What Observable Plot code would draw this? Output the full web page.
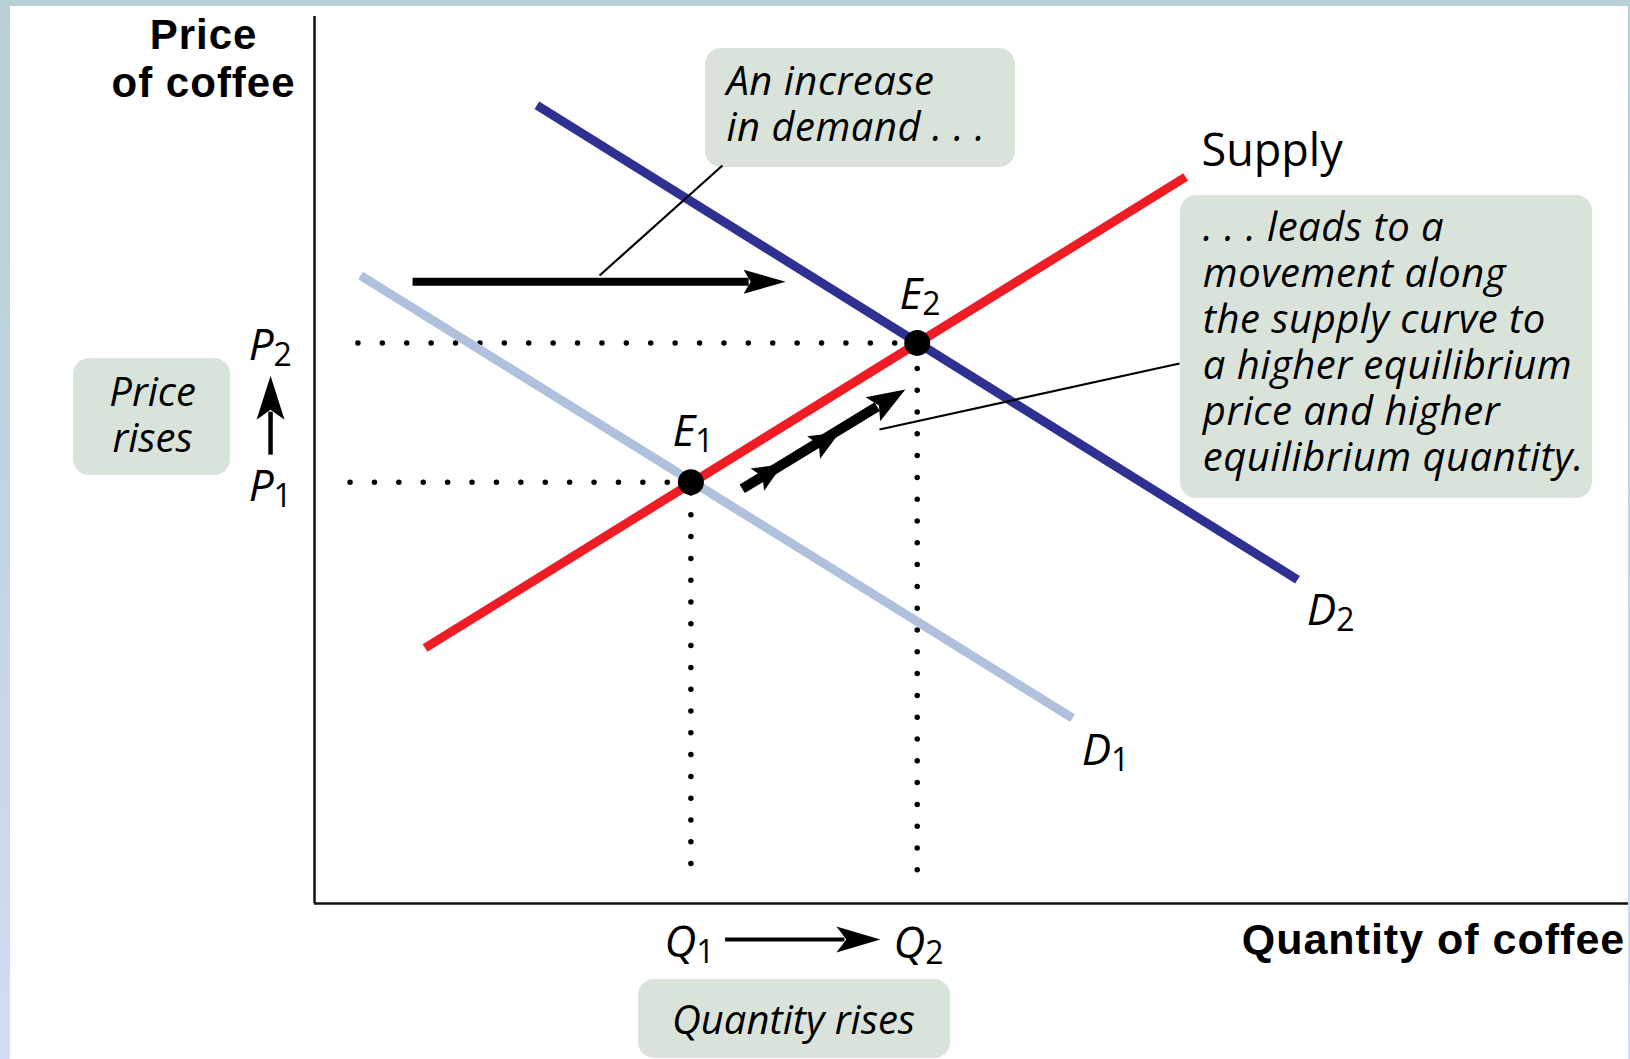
<!DOCTYPE html>
<html><head><meta charset="utf-8">
<script src="https://cdn.jsdelivr.net/npm/d3@7"></script>
<script src="https://cdn.jsdelivr.net/npm/@observablehq/plot@0.6"></script>
<style>
html,body{margin:0;padding:0;background:#fff;}
#frame{position:relative;width:1630px;height:1059px;overflow:hidden;
  background:linear-gradient(to bottom,#b8cfd5 0%,#c3d4e2 50%,#d3dcf6 100%);}
#paper{position:absolute;left:10px;top:6px;width:1618px;height:1053px;background:#fff;}
#chart{position:absolute;left:0;top:0;width:1630px;height:1059px;}
</style></head><body>
<div id="frame"><div id="paper"></div><div id="chart"></div></div>
<script>
// ---------- data (quantity on x, price on y, arbitrary 0–100 units) ----------
const supplyQ = [8.4, 66.2],  supplyP = [28.8, 81.9];
const demand1Q = [3.5, 57.6], demand1P = [70.8, 20.9];
const demand2Q = [16.9, 74.7], demand2P = [90.0, 36.5];
const eqNames = ["E1", "E2"];
const eqQ = [28.6, 45.8];
const eqP = [47.5, 63.2];
const curveLabels = ["Supply", "D1", "D2"];
const priceTicks = ["P1", "P2"];
const quantityTicks = ["Q1", "Q2"];
const yTitle = "Price\nof coffee";
const xTitle = "Quantity of coffee";
const noteDemand = "An increase\nin demand . . .";
const noteMove = ". . . leads to a\nmovement along\nthe supply curve to\na higher equilibrium\nprice and higher\nequilibrium quantity.";
const notePrice = "Price\nrises";
const noteQuantity = "Quantity rises";

// ---------- layout ----------
const W = 1630, H = 1059, ML = 314, MR = 0, MT = 16, MB = 156;
const sx = X => ML + X * (W - ML - MR) / 100;
const sy = Y => H - MB - Y * (H - MT - MB) / 100;
const ix = px => (px - ML) * 100 / (W - ML - MR);
const iy = py => (H - MB - py) * 100 / (H - MT - MB);

const curves = [
  {name: "D1", q: demand1Q, p: demand1P, color: "#b0c1de"},
  {name: "Supply", q: supplyQ, p: supplyP, color: "#ee1d25"},
  {name: "D2", q: demand2Q, p: demand2P, color: "#2e3192"}
];
const curvePts = curves.flatMap(c => c.q.map((q, i) => ({name: c.name, q, p: c.p[i]})));
const curveColor = Object.fromEntries(curves.map(c => [c.name, c.color]));

const eq = eqNames.map((n, i) => ({name: n, q: eqQ[i], p: eqP[i]}));

// dotted guides
const guidesH = [
  {x1: 2.7, x2: eqQ[0], y: eqP[0]},
  {x1: 3.3, x2: eqQ[1], y: eqP[1]}
];
const guidesV = [
  {x: eqQ[0], y1: 4.5, y2: eqP[0]},
  {x: eqQ[1], y1: 3.8, y2: eqP[1]}
];

// arrows: each has a shaft from its tail to the notch of the last head, plus filled heads
const arrows = [
  {w: 8, heads: [{tail: [7.45, 70.1], tip: [35.8, 70.1], L: 42, hw: 12, notch: 7}]},
  {w: 10, heads: [
    {tail: [32.5, 46.75], tip: [35.6, 49.55], L: 30, hw: 13, notch: 6},
    {tail: [32.5, 46.75], tip: [39.9, 53.1], L: 30, hw: 13, notch: 6},
    {tail: [32.5, 46.75], tip: [44.9, 57.95], L: 38, hw: 14, notch: 7}]},
  {w: 4.5, heads: [{tail: [-3.34, 50.6], tip: [-3.34, 59.5], L: 44, hw: 14, notch: 10}]},
  {w: 4, heads: [{tail: [31.2, -4.06], tip: [43.0, -4.06], L: 44, hw: 13, notch: 10}]}
];
const shafts = [], headPts = [];
let hid = 0;
arrows.forEach(a => {
  let last;
  a.heads.forEach(h => {
    const ax = sx(h.tail[0]), ay = sy(h.tail[1]), bx = sx(h.tip[0]), by = sy(h.tip[1]);
    const d = Math.hypot(bx - ax, by - ay), ux = (bx - ax) / d, uy = (by - ay) / d, nx = -uy, ny = ux;
    const b0 = bx - ux * h.L, b1 = by - uy * h.L;
    const n0 = bx - ux * (h.L - h.notch), n1 = by - uy * (h.L - h.notch);
    [[bx, by], [b0 + nx * h.hw, b1 + ny * h.hw], [n0, n1], [b0 - nx * h.hw, b1 - ny * h.hw]]
      .forEach(([px, py]) => headPts.push({id: hid, x: ix(px), y: iy(py)}));
    hid++;
    last = {h, x: ix(n0 - ux * 2), y: iy(n1 - uy * 2)};
  });
  shafts.push({x1: last.h.tail[0], y1: last.h.tail[1], x2: last.x, y2: last.y, w: a.w});
});

const leaders = [
  {x1: 31.0, y1: 83.2, x2: 21.66, y2: 70.8},
  {x1: 65.73, y1: 60.88, x2: 42.93, y2: 53.44}
];

const boxes = [
  {x1: 29.71, x2: 53.27, y1: 82.98, y2: 96.39},
  {x1: 65.81, x2: 97.11, y1: 45.66, y2: 79.82},
  {x1: -18.31, x2: -6.38, y1: 48.25, y2: 61.44},
  {x1: 24.62, x2: 48.33, y1: -17.47, y2: -8.57}
];

const notesStart = [
  {t: noteDemand, x: 31.3, y: 86.0},
  {t: noteMove, x: 67.5, y: 48.8}
];
const notesMid = [
  {t: notePrice, x: -12.3, y: 50.85},
  {t: noteQuantity, x: 36.4, y: -14.66}
];

const subLabels = [
  {t: curveLabels[1], x: 58.3, y: 15.67},
  {t: curveLabels[2], x: 75.4, y: 31.45},
  {t: eqNames[0], x: 27.2, y: 51.63},
  {t: eqNames[1], x: 44.45, y: 67.08},
  {t: priceTicks[1], x: -5.0, y: 61.33},
  {t: priceTicks[0], x: -5.0, y: 45.43},
  {t: quantityTicks[0], x: 26.6, y: -5.98},
  {t: quantityTicks[1], x: 44.0, y: -6.09}
];

const sans = "'Open Sans', 'Noto Sans', sans-serif";
const bold = "'Liberation Sans', Arial, Helvetica, sans-serif";

const chart = Plot.plot({
  width: W, height: H,
  marginLeft: ML, marginRight: MR, marginTop: MT, marginBottom: MB,
  x: {domain: [0, 100], axis: null},
  y: {domain: [0, 100], axis: null},
  style: {background: "transparent", overflow: "visible"},
  marks: [
    Plot.rect(boxes, {x1: "x1", x2: "x2", y1: "y1", y2: "y2", fill: "#d9e3da", rx: 16, ry: 16}),
    Plot.ruleX([0], {y1: 0, y2: 100, stroke: "#111", strokeWidth: 2.5}),
    Plot.ruleY([0], {x1: 0, x2: 99.85, stroke: "#111", strokeWidth: 2.5}),
    Plot.link(guidesH, {x1: "x1", x2: "x2", y1: "y", y2: "y", stroke: "black", strokeWidth: 5.5,
      strokeLinecap: "round", strokeDasharray: "0 24.4"}),
    Plot.link(guidesV, {x1: "x", x2: "x", y1: "y1", y2: "y2", stroke: "black", strokeWidth: 5.5,
      strokeLinecap: "round", strokeDasharray: "0 21.8"}),
    Plot.line(curvePts, {x: "q", y: "p", z: "name", stroke: d => curveColor[d.name], strokeWidth: 9,
      strokeLinecap: "butt"}),
    Plot.link(leaders, {x1: "x1", y1: "y1", x2: "x2", y2: "y2", stroke: "black", strokeWidth: 2.2}),
    Plot.link(shafts, {x1: "x1", y1: "y1", x2: "x2", y2: "y2", stroke: "black", strokeWidth: d => d.w}),
    Plot.line(headPts, {x: "x", y: "y", z: "id", fill: "black", stroke: "none"}),
    Plot.dot(eq, {x: "q", y: "p", r: 13, fill: "black", stroke: "none"}),
    Plot.text([{t: yTitle, x: -8.43, y: 90.98}], {x: "x", y: "y", text: "t", textAnchor: "middle",
      lineAnchor: "bottom", lineHeight: 1.12, fontFamily: bold, fontWeight: "bold", fontSize: 42}),
    Plot.text([{t: xTitle, x: 99.6, y: -5.64}], {x: "x", y: "y", text: "t", textAnchor: "end",
      lineAnchor: "bottom", fontFamily: bold, fontWeight: "bold", fontSize: 43}),
    Plot.text([{t: curveLabels[0], x: 67.4, y: 83.2}], {x: "x", y: "y", text: "t", textAnchor: "start",
      lineAnchor: "bottom", fontFamily: sans, fontSize: 45}),
    Plot.text(notesStart, {x: "x", y: "y", text: "t", textAnchor: "start", lineAnchor: "bottom",
      lineHeight: 1.15, fontFamily: sans, fontStyle: "italic", fontSize: 40}),
    Plot.text(notesMid, {x: "x", y: "y", text: "t", textAnchor: "middle", lineAnchor: "bottom",
      lineHeight: 1.15, fontFamily: sans, fontStyle: "italic", fontSize: 40}),
    Plot.text(subLabels, {x: "x", y: "y", text: "t", textAnchor: "start", lineAnchor: "bottom",
      fontFamily: sans, fontSize: 44})
  ]
});
document.getElementById("chart").append(chart);

// subscripts: first letter italic, digit as subscript; slight tracking on titles / wide notes
d3.select(chart).selectAll("text").each(function () {
  const t = this.textContent;
  if (/^[PEDQ][12]$/.test(t)) {
    this.textContent = "";
    const s = d3.select(this);
    s.append("tspan").attr("font-style", "italic").text(t[0]);
    s.append("tspan").attr("font-style", "normal").attr("font-size", 32).attr("dy", 6).text(t[1]);
  } else if (t.includes("coffee")) {
    d3.select(this).attr("letter-spacing", 1);
  } else if (t.includes("leads") || t.includes("increase")) {
    d3.select(this).attr("letter-spacing", 0.5);
  }
});
</script>
</body></html>
